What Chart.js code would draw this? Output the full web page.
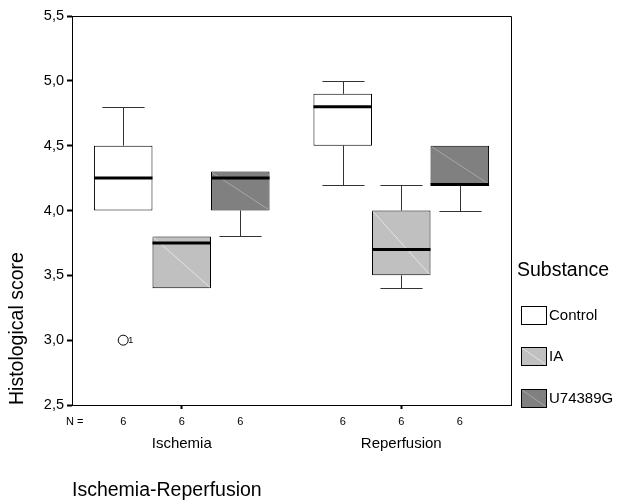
<!DOCTYPE html>
<html><head><meta charset="utf-8">
<script src="https://cdn.jsdelivr.net/npm/chart.js@4"></script>
<style>html,body{margin:0;padding:0;background:#fff}canvas{display:block}</style>
</head><body>
<canvas id="c" width="618" height="502" style="width:618px;height:502px"></canvas>
<script>
// ---- data ----
const categories = ['Ischemia', 'Reperfusion'];
const seriesNames = ['Control', 'IA', 'U74389G'];
const controlQ1 = [4.0, 4.5];
const controlQ3 = [4.5, 4.9];
const controlMedian = [4.25, 4.8];
const controlMin = [4.0, 4.2];
const controlMax = [4.8, 5.0];
const iaQ1 = [3.4, 3.5];
const iaQ3 = [3.8, 4.0];
const iaMedian = [3.75, 3.7];
const iaMin = [3.4, 3.4];
const iaMax = [3.8, 4.2];
const uQ1 = [4.0, 4.2];
const uQ3 = [4.3, 4.5];
const uMedian = [4.25, 4.2];
const uMin = [3.8, 4.0];
const uMax = [4.3, 4.5];
const nControl = [6, 6];
const nIA = [6, 6];
const nU = [6, 6];
const outlierSeries = [0];
const outlierCategory = [0];
const outlierValue = [3.0];
const outlierLabel = ['1'];
const yMin = 2.5, yMax = 5.5, yStep = 0.5;

const FONT = "'Liberation Sans', Arial, sans-serif";
Chart.defaults.font.family = FONT;
Chart.defaults.color = '#000';

const fills = ['#ffffff', '#c0c0c0', '#808080'];
const diagColors = [null, '#e4e4e4', '#a6a6a6'];

function mk(i, q1, q3, med, mn, mx, n) {
  return {
    label: seriesNames[i],
    data: categories.map((_, k) => [q1[k], q3[k]]),
    medians: med, mins: mn, maxs: mx, counts: n,
    backgroundColor: fills[i],
    borderColor: '#000',
    borderWidth: 1,
    borderSkipped: false,
    barPercentage: 1.0,
    categoryPercentage: 0.8,
    diag: diagColors[i]
  };
}

const boxPlugin = {
  id: 'boxPlugin',
  beforeDatasetsDraw(chart) {
    const ctx = chart.ctx, ys = chart.scales.y;
    ctx.save();
    ctx.strokeStyle = '#333';
    ctx.lineWidth = 1;
    chart.data.datasets.forEach((ds, di) => {
      const meta = chart.getDatasetMeta(di);
      meta.data.forEach((el, k) => {
        const x = Math.round(el.x) + 0.5, cw = el.width * 0.36;
        const top = ys.getPixelForValue(ds.data[k][1]);
        const bot = ys.getPixelForValue(ds.data[k][0]);
        const yMx = ys.getPixelForValue(ds.maxs[k]);
        const yMn = ys.getPixelForValue(ds.mins[k]);
        if (ds.maxs[k] > ds.data[k][1]) {
          ctx.beginPath();
          ctx.moveTo(x, top); ctx.lineTo(x, Math.round(yMx) + 0.5);
          ctx.moveTo(x - cw, Math.round(yMx) + 0.5); ctx.lineTo(x + cw, Math.round(yMx) + 0.5);
          ctx.stroke();
        }
        if (ds.mins[k] < ds.data[k][0]) {
          ctx.beginPath();
          ctx.moveTo(x, bot); ctx.lineTo(x, Math.round(yMn) + 0.5);
          ctx.moveTo(x - cw, Math.round(yMn) + 0.5); ctx.lineTo(x + cw, Math.round(yMn) + 0.5);
          ctx.stroke();
        }
      });
    });
    ctx.restore();
  },
  afterDatasetsDraw(chart) {
    const ctx = chart.ctx, ys = chart.scales.y, ca = chart.chartArea;
    ctx.save();
    chart.data.datasets.forEach((ds, di) => {
      const meta = chart.getDatasetMeta(di);
      meta.data.forEach((el, k) => {
        const l = el.x - el.width / 2, r = el.x + el.width / 2;
        const top = ys.getPixelForValue(ds.data[k][1]);
        const bot = ys.getPixelForValue(ds.data[k][0]);
        if (ds.diag) {
          ctx.strokeStyle = ds.diag; ctx.lineWidth = 1;
          ctx.beginPath(); ctx.moveTo(l + 1, top + 1); ctx.lineTo(r - 1, bot - 1); ctx.stroke();
        }
        const ym = ys.getPixelForValue(ds.medians[k]);
        ctx.strokeStyle = '#000'; ctx.lineWidth = 3;
        ctx.beginPath(); ctx.moveTo(l, ym); ctx.lineTo(r, ym); ctx.stroke();
      });
    });
    // outliers
    outlierValue.forEach((v, i) => {
      const el = chart.getDatasetMeta(outlierSeries[i]).data[outlierCategory[i]];
      const y = ys.getPixelForValue(v);
      ctx.strokeStyle = '#000'; ctx.lineWidth = 1; ctx.fillStyle = '#fff';
      ctx.beginPath(); ctx.arc(el.x, y, 5, 0, Math.PI * 2); ctx.fill(); ctx.stroke();
      ctx.fillStyle = '#000'; ctx.font = '9px ' + FONT;
      ctx.textAlign = 'left'; ctx.textBaseline = 'middle';
      ctx.fillText(outlierLabel[i], el.x + 5, y);
    });
    // frame top/right
    ctx.strokeStyle = '#000'; ctx.lineWidth = 1;
    ctx.beginPath();
    ctx.moveTo(ca.left, Math.round(ca.top) + 0.5);
    ctx.lineTo(Math.round(ca.right) + 0.5, Math.round(ca.top) + 0.5);
    ctx.lineTo(Math.round(ca.right) + 0.5, ca.bottom);
    ctx.stroke();
    // N row
    ctx.fillStyle = '#000'; ctx.font = '11px ' + FONT; ctx.textBaseline = 'middle';
    ctx.textAlign = 'left';
    ctx.fillText('N =', 66, 422);
    ctx.textAlign = 'center';
    chart.data.datasets.forEach((ds, di) => {
      chart.getDatasetMeta(di).data.forEach((el, k) => {
        ctx.fillText(String(ds.counts[k]), el.x, 422);
      });
    });
    // legend
    ctx.textAlign = 'left';
    ctx.font = '19.5px ' + FONT;
    ctx.fillText('Substance', 517, 271);
    const lx = 521, lw = 25, lh = 18, ly = [306, 347, 389];
    chart.data.datasets.forEach((ds, di) => {
      const y0 = ly[di];
      ctx.fillStyle = ds.backgroundColor;
      ctx.fillRect(lx, y0, lw, lh);
      if (ds.diag) {
        ctx.strokeStyle = ds.diag; ctx.lineWidth = 1;
        ctx.beginPath(); ctx.moveTo(lx + 1, y0 + 1); ctx.lineTo(lx + lw - 1, y0 + lh - 1); ctx.stroke();
      }
      ctx.strokeStyle = '#000'; ctx.lineWidth = 1;
      ctx.strokeRect(lx + 0.5, y0 + 0.5, lw, lh);
      ctx.fillStyle = '#000'; ctx.font = '15px ' + FONT;
      ctx.fillText(ds.label, lx + lw + 3, y0 + lh / 2 + 1);
    });
    ctx.restore();
  }
};

new Chart(document.getElementById('c'), {
  type: 'bar',
  data: {
    labels: categories,
    datasets: [
      mk(0, controlQ1, controlQ3, controlMedian, controlMin, controlMax, nControl),
      mk(1, iaQ1, iaQ3, iaMedian, iaMin, iaMax, nIA),
      mk(2, uQ1, uQ3, uMedian, uMin, uMax, nU)
    ]
  },
  options: {
    responsive: false,
    animation: false,
    layout: { padding: { top: 16, right: 107, left: 0, bottom: 0 } },
    plugins: { legend: { display: false }, tooltip: { enabled: false } },
    scales: {
      x: {
        offset: true,
        ticks: { color: '#000', font: { size: 15 }, padding: 26 },
        grid: { offset: false, drawOnChartArea: false, drawTicks: true, tickLength: 4, tickWidth: 2, tickColor: '#000' },
        border: { display: true, color: '#000', width: 1 },
        title: { display: true, text: 'Ischemia-Reperfusion', align: 'start', color: '#000', font: { size: 19.5 }, padding: { top: 4, bottom: 0 } },
        afterFit: s => { s.height = 97; }
      },
      y: {
        min: yMin, max: yMax,
        ticks: { stepSize: yStep, color: '#000', font: { size: 14.5 }, padding: 3,
          callback: v => Number(v).toFixed(1).replace('.', ',') },
        grid: { drawOnChartArea: false, drawTicks: true, tickLength: 5, tickWidth: 2, tickColor: '#000' },
        border: { display: true, color: '#000', width: 1 },
        title: { display: true, text: 'Histological score', align: 'start', color: '#000', font: { size: 19.5 }, padding: { top: 6, bottom: 0 } },
        afterFit: s => { s.width = 72; }
      }
    }
  },
  plugins: [boxPlugin]
});
</script>
</body></html>
